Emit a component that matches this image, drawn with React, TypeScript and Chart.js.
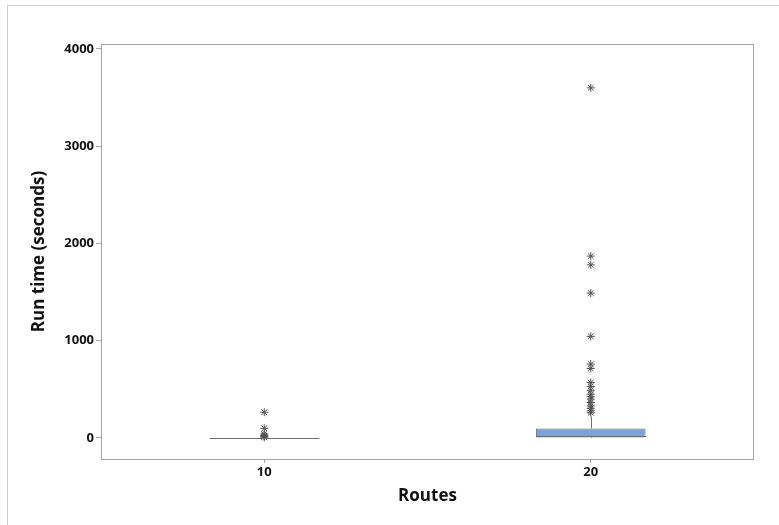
import React, { useEffect, useRef } from "react";
import { Chart, registerables } from "chart.js";

Chart.register(...registerables);

const categories = ["10", "20"];
const q1 = [0, 5];
const medians = [0, 25];
const q3 = [0, 98];
const whiskerLow = [0, 0];
const whiskerHigh = [0, 220];
const outliers10 = [265, 100, 40, 25, 15, 8];
const outliers20 = [3600, 1870, 1780, 1490, 1045, 760, 715, 570, 530, 490, 450, 425, 400, 365, 330, 305, 280, 260];
const yTicks = [0, 1000, 2000, 3000, 4000];

const FONT = "'Open Sans', 'Noto Sans', sans-serif";

const framePlugin = {
  id: "frame",
  beforeDatasetsDraw(chart: any) {
    const { ctx, chartArea } = chart;
    ctx.save();
    ctx.strokeStyle = "#a6a6a6";
    ctx.lineWidth = 1;
    ctx.strokeRect(
      Math.round(chartArea.left) + 0.5,
      Math.round(chartArea.top) + 0.5,
      Math.round(chartArea.right - chartArea.left) - 1,
      Math.round(chartArea.bottom - chartArea.top)
    );
    ctx.restore();
  },
};

const boxPlugin = {
  id: "boxExtras",
  afterDatasetsDraw(chart: any) {
    const { ctx } = chart;
    const xs = chart.scales.x;
    const ys = chart.scales.y;
    const meta = chart.getDatasetMeta(0);
    ctx.save();
    ctx.strokeStyle = "#6e6e6e";
    ctx.lineWidth = 1;
    categories.forEach((c, i) => {
      const bar = meta.data[i];
      const cx = Math.round(xs.getPixelForValue(i)) + 0.5;
      const half = bar.width / 2;
      const yq3 = ys.getPixelForValue(q3[i]);
      const yhi = ys.getPixelForValue(whiskerHigh[i]);
      const yq1 = ys.getPixelForValue(q1[i]);
      const ylo = ys.getPixelForValue(whiskerLow[i]);
      ctx.beginPath();
      ctx.moveTo(cx, yq3);
      ctx.lineTo(cx, yhi);
      ctx.moveTo(cx, yq1);
      ctx.lineTo(cx, ylo);
      ctx.stroke();
      const ym = Math.round(ys.getPixelForValue(medians[i])) + 0.5;
      ctx.beginPath();
      ctx.moveTo(cx - half, ym);
      ctx.lineTo(cx + half, ym);
      ctx.stroke();
    });
    ctx.restore();
  },
};

export default function App() {
  const ref = useRef<HTMLCanvasElement>(null);
  useEffect(() => {
    if (!ref.current) return;
    const outlierData = [
      ...outliers10.map((v) => ({ x: categories[0], y: v })),
      ...outliers20.map((v) => ({ x: categories[1], y: v })),
    ];
    const chart = new Chart(ref.current, {
      type: "bar",
      data: {
        labels: categories,
        datasets: [
          {
            type: "bar",
            data: categories.map((_, i) => [q1[i], q3[i]]) as any,
            backgroundColor: "#7aa3dc",
            borderColor: "#6e6e6e",
            borderWidth: 1,
            borderSkipped: false,
            categoryPercentage: 1,
            barPercentage: 0.336,
          } as any,
          {
            type: "line",
            data: outlierData as any,
            showLine: false,
            pointStyle: "star",
            pointRadius: 4,
            pointBorderColor: "#505050",
            pointBackgroundColor: "#505050",
            pointBorderWidth: 1,
          } as any,
        ],
      },
      options: {
        responsive: false,
        animation: false,
        devicePixelRatio: 1,
        layout: { padding: { top: 44, right: 25, left: 0, bottom: 0 } },
        plugins: { legend: { display: false }, tooltip: { enabled: false } },
        scales: {
          x: {
            type: "category",
            offset: true,
            grid: { display: true, drawOnChartArea: false, drawTicks: true, tickLength: 4, color: "#a6a6a6", offset: false },
            border: { display: false },
            ticks: { color: "#111111", font: { family: FONT, size: 13, weight: "bold" }, padding: 1, maxRotation: 0 },
            title: {
              display: true,
              text: "Routes",
              color: "#111111",
              font: { family: FONT, size: 17, weight: "bold" },
              padding: { top: 0, bottom: 19 },
            },
            afterFit(scale: any) {
              scale.height = 66;
            },
          },
          y: {
            type: "linear",
            min: -216,
            max: 4051,
            grid: { display: true, drawOnChartArea: false, drawTicks: true, tickLength: 5, color: "#a6a6a6" },
            border: { display: false },
            ticks: {
              color: "#111111",
              font: { family: FONT, size: 13, weight: "bold" },
              padding: 2,
              callback: (v: any) => String(v),
            },
            afterBuildTicks(scale: any) {
              scale.ticks = yTicks.map((v) => ({ value: v }));
            },
            title: {
              display: true,
              text: "Run time (seconds)",
              color: "#111111",
              font: { family: FONT, size: 17, weight: "bold" },
              padding: { top: 29, bottom: 0 },
            },
            afterFit(scale: any) {
              scale.width = 101;
            },
          },
        },
      },
      plugins: [framePlugin, boxPlugin],
    });
    return () => chart.destroy();
  }, []);

  return (
    <div style={{ position: "fixed", left: 0, top: 0, width: 779, height: 525, background: "#fff" }}>
      <div
        style={{
          position: "absolute",
          left: 7,
          top: 5,
          right: 0,
          bottom: 0,
          borderTop: "1px solid #cfcfcf",
          borderLeft: "1px solid #cfcfcf",
        }}
      />
      <canvas ref={ref} width={779} height={525} style={{ position: "absolute", left: 0, top: 0 }} />
    </div>
  );
}
